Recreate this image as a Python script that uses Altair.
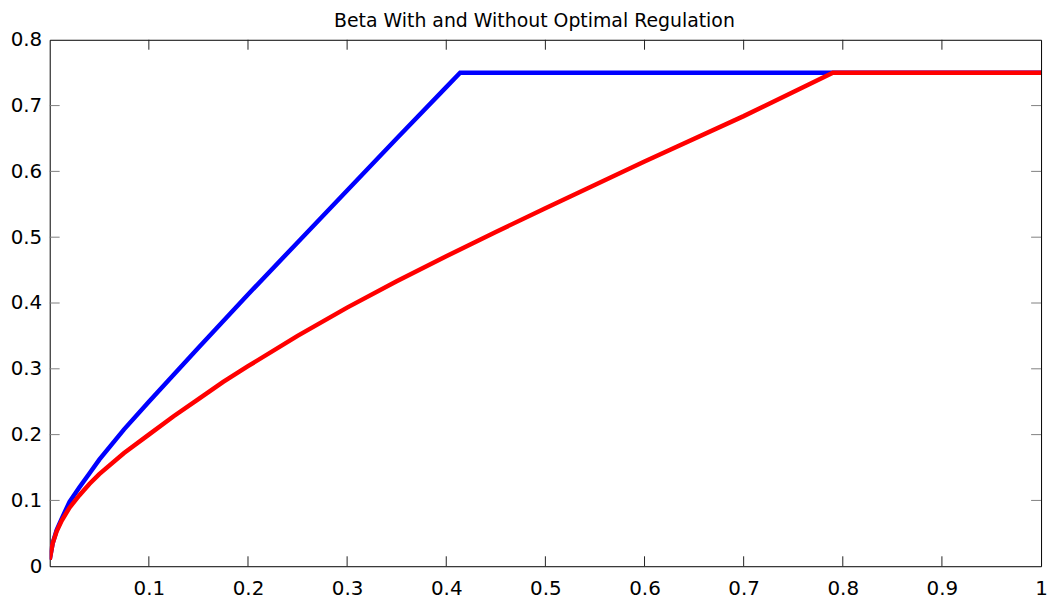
import altair as alt
import pandas as pd

# Series
blue_x = [0.0, 0.003, 0.007, 0.012, 0.02, 0.03, 0.04, 0.05, 0.075, 0.1, 0.125, 0.15,
          0.2, 0.25, 0.3, 0.35, 0.4, 0.414, 0.6, 0.8, 1.0]
blue_y = [0.01, 0.035, 0.055, 0.072, 0.098, 0.12, 0.141, 0.162, 0.208, 0.25, 0.291, 0.332,
          0.413, 0.492, 0.571, 0.65, 0.728, 0.75, 0.75, 0.75, 0.75]

red_x = [0.0, 0.003, 0.007, 0.012, 0.02, 0.03, 0.04, 0.05, 0.075, 0.1, 0.125, 0.15, 0.175,
         0.2, 0.25, 0.3, 0.35, 0.4, 0.45, 0.5, 0.6, 0.7, 0.79, 1.0]
red_y = [0.01, 0.035, 0.053, 0.069, 0.089, 0.108, 0.125, 0.14, 0.172, 0.2, 0.228, 0.254, 0.28,
         0.304, 0.35, 0.393, 0.433, 0.471, 0.508, 0.544, 0.615, 0.684, 0.75, 0.75]

x_ticks = [0.1, 0.2, 0.3, 0.4, 0.5, 0.6, 0.7, 0.8, 0.9, 1.0]
y_ticks = [0.0, 0.1, 0.2, 0.3, 0.4, 0.5, 0.6, 0.7, 0.8]
x_inner_ticks = [0.1, 0.2, 0.3, 0.4, 0.5, 0.6, 0.7, 0.8, 0.9]
y_inner_ticks = [0.1, 0.2, 0.3, 0.4, 0.5, 0.6, 0.7]

title_text = ["Beta With and Without Optimal Regulation"]

W, H = 998, 530
FONT = "DejaVu Sans"

blue_df = pd.DataFrame({"x": blue_x, "y": blue_y})
red_df = pd.DataFrame({"x": red_x, "y": red_y})
xt_df = pd.DataFrame({"x": x_inner_ticks})
yt_df = pd.DataFrame({"y": y_inner_ticks})
title_df = pd.DataFrame({"t": title_text})

xscale = alt.Scale(domain=[0, 1], nice=False, zero=False)
yscale = alt.Scale(domain=[0, 0.8], nice=False, zero=False)

xaxis = alt.Axis(values=x_ticks, format=".1~f", title=None, grid=False, domain=False,
                 ticks=False, labelFont=FONT, labelFontSize=20, labelColor="#000",
                 labelPadding=12, labelFlush=False, labelOverlap=False)
yaxis = alt.Axis(values=y_ticks, format=".1~f", title=None, grid=False, domain=False,
                 ticks=False, labelFont=FONT, labelFontSize=20, labelColor="#000",
                 labelPadding=8, labelFlush=False, labelOverlap=False)

X = alt.X("x:Q", scale=xscale, axis=xaxis)
Y = alt.Y("y:Q", scale=yscale, axis=yaxis)

blue = alt.Chart(blue_df).mark_line(color="#0000ff", strokeWidth=4.5, clip=True).encode(x=X, y=Y)
red = alt.Chart(red_df).mark_line(color="#ff0000", strokeWidth=4.5, clip=True).encode(x=X, y=Y)

xt_bottom = alt.Chart(xt_df).mark_rule(color="#222222", strokeWidth=1).encode(
    x=X, y=alt.value(H), y2=alt.value(H - 10))
xt_top = alt.Chart(xt_df).mark_rule(color="#222222", strokeWidth=1).encode(
    x=X, y=alt.value(0), y2=alt.value(10))
yt_left = alt.Chart(yt_df).mark_rule(color="#808080", strokeWidth=1).encode(
    y=Y, x=alt.value(0), x2=alt.value(10))
yt_right = alt.Chart(yt_df).mark_rule(color="#808080", strokeWidth=1).encode(
    y=Y, x=alt.value(W), x2=alt.value(W - 10))

title = alt.Chart(title_df).mark_text(
    font=FONT, fontSize=19, color="#000", align="center", baseline="alphabetic"
).encode(text="t:N", x=alt.value(488), y=alt.value(-13))

chart = alt.layer(xt_bottom, xt_top, yt_left, yt_right, blue, red, title).properties(
    width=W,
    height=H,
    padding={"left": 42, "top": 30, "right": 8, "bottom": 31},
    autosize=alt.AutoSizeParams(type="none"),
).configure(background="white").configure_view(stroke="#000000", strokeWidth=1)

chart.save("out.html", embed_options={"renderer": "svg", "actions": False})
